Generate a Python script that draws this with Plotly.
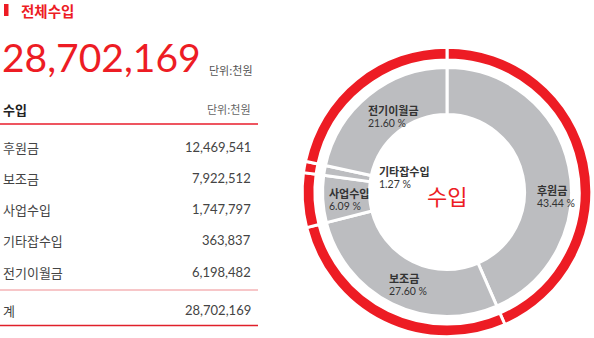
import plotly.graph_objects as go

W, H = 594, 338

# ---- data ----
categories = ["후원금", "보조금", "사업수입", "기타잡수입", "전기이월금"]
amounts = [12469541, 7922512, 1747797, 363837, 6198482]
total_amount = 28702169
title_text = "전체수입"
unit_text = "단위:천원"
table_header = "수입"
total_label = "계"
center_text = "수입"

RED = "#ed1c24"
GRAY = "#bcbdc0"
DARK = "#333333"
KR = "Noto Sans CJK KR"
NUM = "Lato"


def px(x):
    return min(max(x / W, 0), 1)


def py(y):
    return min(max(1 - y / H, 0), 1)


cx, cy = 447, 192
k = 1.02
R_out, R_red_in = 142, 129.5
R_gray, R_gray_in = 122, 76

fig = go.Figure()
fig.add_trace(go.Pie(
    values=amounts, labels=categories, sort=False, direction="clockwise", rotation=0,
    hole=R_red_in / R_out, textinfo="none", hoverinfo="label+percent",
    marker=dict(colors=[RED] * len(amounts), line=dict(color="white", width=3)),
    domain=dict(x=[px(cx - R_out * k), px(cx + R_out * k)], y=[py(cy + R_out * k), py(cy - R_out * k)]),
    showlegend=False,
))
fig.add_trace(go.Pie(
    values=amounts, labels=categories, sort=False, direction="clockwise", rotation=0,
    hole=R_gray_in / R_gray, textinfo="none", hoverinfo="label+percent",
    marker=dict(colors=[GRAY] * len(amounts), line=dict(color="white", width=3)),
    domain=dict(x=[px(cx - R_gray * k), px(cx + R_gray * k)], y=[py(cy + R_gray * k), py(cy - R_gray * k)]),
    showlegend=False,
))

ann = []
# donut labels (left x, y of name line)
label_pos = [(535, 190), (387, 278), (327, 193), (377, 171), (366, 110)]
for name, amt, (lx, ly) in zip(categories, amounts, label_pos):
    pct = amt / total_amount * 100
    ann.append(dict(x=px(lx), y=py(ly), xref="paper", yref="paper", xanchor="left", yanchor="middle",
                    align="left", showarrow=False, text=f"<b>{name}</b>",
                    font=dict(family=KR, size=11, color=DARK)))
    ann.append(dict(x=px(lx), y=py(ly + 13), xref="paper", yref="paper", xanchor="left", yanchor="middle",
                    align="left", showarrow=False, text=f"{pct:.2f} %",
                    font=dict(family=NUM, size=10.5, color=DARK)))
ann.append(dict(x=px(cx), y=py(195), xref="paper", yref="paper", xanchor="center", yanchor="middle",
                showarrow=False, text=center_text, font=dict(family=KR, size=22, color=RED)))

# header
ann.append(dict(x=px(19), y=py(10), xref="paper", yref="paper", xanchor="left", yanchor="middle",
                showarrow=False, text=f"<b>{title_text}</b>", font=dict(family=KR, size=14.5, color=RED)))
ann.append(dict(x=px(0), y=py(57), xref="paper", yref="paper", xanchor="left", yanchor="middle",
                showarrow=False, text=f"{total_amount:,}", font=dict(family=NUM, size=39, color=RED)))
ann.append(dict(x=px(207), y=py(70), xref="paper", yref="paper", xanchor="left", yanchor="middle",
                showarrow=False, text=unit_text, font=dict(family=KR, size=11, color="#555555")))

# table
ann.append(dict(x=px(1), y=py(109), xref="paper", yref="paper", xanchor="left", yanchor="middle",
                showarrow=False, text=f"<b>{table_header}</b>", font=dict(family=KR, size=13, color="#222222")))
ann.append(dict(x=px(253), y=py(109), xref="paper", yref="paper", xanchor="right", yanchor="middle",
                showarrow=False, text=unit_text, font=dict(family=KR, size=11, color="#666666")))
row_y = [147, 178, 209, 240, 272]
for name, amt, ry in zip(categories, amounts, row_y):
    ann.append(dict(x=px(1), y=py(ry), xref="paper", yref="paper", xanchor="left", yanchor="middle",
                    showarrow=False, text=name, font=dict(family=KR, size=13, color="#444444")))
    ann.append(dict(x=px(253), y=py(ry), xref="paper", yref="paper", xanchor="right", yanchor="middle",
                    showarrow=False, text=f"{amt:,}", font=dict(family=NUM, size=13, color="#444444")))
ann.append(dict(x=px(1), y=py(310), xref="paper", yref="paper", xanchor="left", yanchor="middle",
                showarrow=False, text=total_label, font=dict(family=KR, size=13, color="#444444")))
ann.append(dict(x=px(253), y=py(310), xref="paper", yref="paper", xanchor="right", yanchor="middle",
                showarrow=False, text=f"{total_amount:,}", font=dict(family=NUM, size=13, color="#444444")))

shapes = [
    dict(type="rect", xref="paper", yref="paper", x0=px(4), x1=px(8.5), y0=py(16), y1=py(4),
         fillcolor=RED, line=dict(width=0)),
    dict(type="line", xref="paper", yref="paper", x0=px(0), x1=px(258), y0=py(124), y1=py(124),
         line=dict(color="#ee5560", width=2)),
    dict(type="line", xref="paper", yref="paper", x0=px(0), x1=px(258), y0=py(290), y1=py(290),
         line=dict(color="#f7c6c8", width=2)),
    dict(type="line", xref="paper", yref="paper", x0=px(0), x1=px(258), y0=py(325.5), y1=py(325.5),
         line=dict(color="#e0202a", width=1.5)),
]

fig.update_layout(width=W, height=H, margin=dict(l=0, r=0, t=0, b=0),
                  paper_bgcolor="white", plot_bgcolor="white",
                  annotations=ann, shapes=shapes)
fig.write_html("out.html")
